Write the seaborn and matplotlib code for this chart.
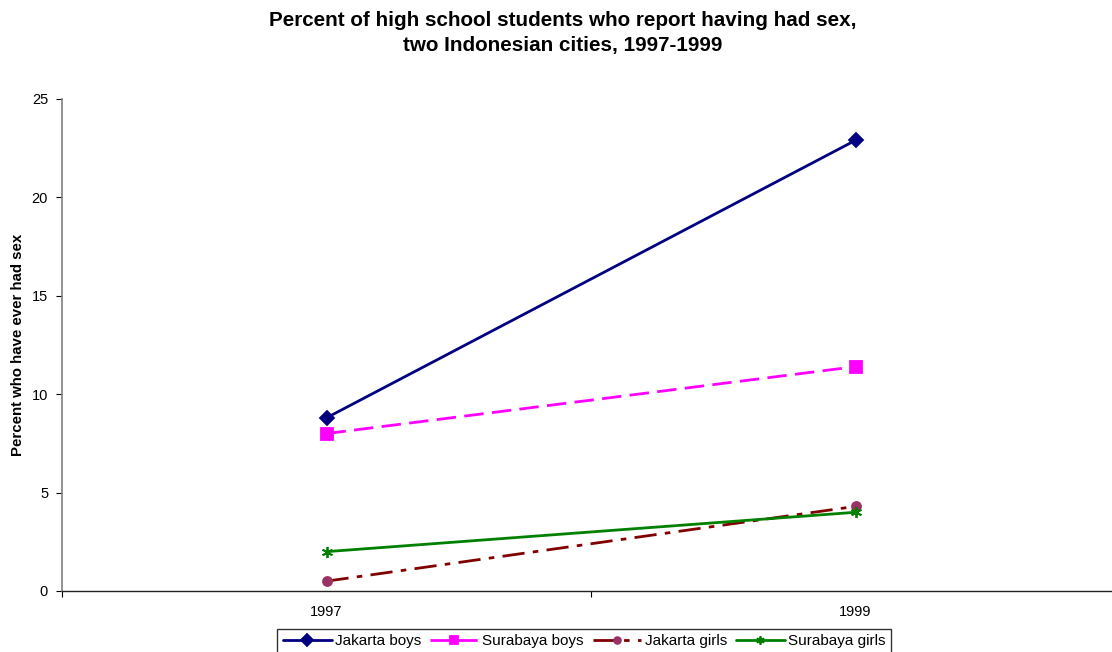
import pandas as pd
import matplotlib.pyplot as plt
import seaborn as sns

years = ["1997", "1999"]
jakarta_boys = [8.8, 22.9]
surabaya_boys = [8.0, 11.4]
jakarta_girls = [0.5, 4.3]
surabaya_girls = [2.0, 4.0]

series = [
    ("Jakarta boys", jakarta_boys),
    ("Surabaya boys", surabaya_boys),
    ("Jakarta girls", jakarta_girls),
    ("Surabaya girls", surabaya_girls),
]

rows = []
for name, vals in series:
    for i, v in enumerate(vals):
        rows.append({"pos": i + 0.5, "value": v, "series": name})
data = pd.DataFrame(rows)

sns.set_style("white")
plt.rcParams["font.family"] = ["Liberation Sans", "DejaVu Sans"]
plt.rcParams["text.color"] = "black"
plt.rcParams["axes.labelcolor"] = "black"

styles = {
    "Jakarta boys": dict(color="#000080", marker="D", ms=7.5, mfc="#000080", mec="#000080", ls="-"),
    "Surabaya boys": dict(color="#FF00FF", marker="s", ms=8.5, mfc="#FF00FF", mec="#FF00FF", ls=(0, (7, 3))),
    "Jakarta girls": dict(color="#800000", marker="o", ms=6.5, mfc="#993366", mec="#993366", ls=(0, (8, 3, 2, 3))),
    "Surabaya girls": dict(color="#008000", marker=(6, 2, 0), ms=8, mfc="#008000", mec="#008000", ls="-"),
}

fig = plt.figure(figsize=(11.12, 6.52), dpi=100)
ax = fig.add_axes([62 / 1112, 1 - 591 / 652, 1058 / 1112, 492 / 652])

for name, vals in series:
    st = styles[name]
    sub = data[data["series"] == name]
    sns.lineplot(data=sub, x="pos", y="value", ax=ax, label=name,
                 color=st["color"], linewidth=2, linestyle=st["ls"],
                 marker=st["marker"], markersize=st["ms"],
                 markerfacecolor=st["mfc"], markeredgecolor=st["mec"],
                 markeredgewidth=1.3)

ax.set_xlim(0, 2)
ax.set_ylim(0, 25)
ax.set_yticks([0, 5, 10, 15, 20, 25])
ax.set_xticks([0, 1, 2])
ax.set_xticklabels([])
ax.set_xticks([0.5, 1.5], minor=True)
ax.set_xticklabels(years, minor=True)
ax.tick_params(axis="x", which="minor", length=0, pad=10, labelsize=10.5, labelcolor="black")
ax.tick_params(axis="x", which="major", length=4, direction="out", bottom=True, color="black")
ax.tick_params(axis="y", length=4, direction="out", left=True, labelsize=10.5,
               color="black", labelcolor="black", pad=6)
for s in ["top", "right"]:
    ax.spines[s].set_visible(False)
ax.spines["left"].set_color("#808080")
ax.spines["bottom"].set_color("#202020")
ax.spines["left"].set_linewidth(1.2)
ax.spines["bottom"].set_linewidth(1)

ax.set_xlabel("")
ax.set_ylabel("")
fig.text(18 / 1112, 1 - 345 / 652, "Percent who have ever had sex", rotation=90,
         ha="center", va="center", fontsize=10.8, fontweight="bold")

fig.suptitle("Percent of high school students who report having had sex,\ntwo Indonesian cities, 1997-1999",
             fontsize=14.9, fontweight="bold", x=563 / 1112, y=1 - 11 / 652, va="top",
             linespacing=1.4, color="black")

leg = ax.legend(loc="upper center", bbox_to_anchor=(584 / 1112, 1 - 629 / 652),
                bbox_transform=fig.transFigure, ncol=4, frameon=True, fancybox=False,
                fontsize=11, handlelength=3.2, columnspacing=0.6, handletextpad=0.2,
                borderpad=0.35, borderaxespad=0, markerscale=0.75)
leg.get_frame().set_edgecolor("black")
leg.get_frame().set_linewidth(1)

fig.savefig("out.png", dpi=100)
